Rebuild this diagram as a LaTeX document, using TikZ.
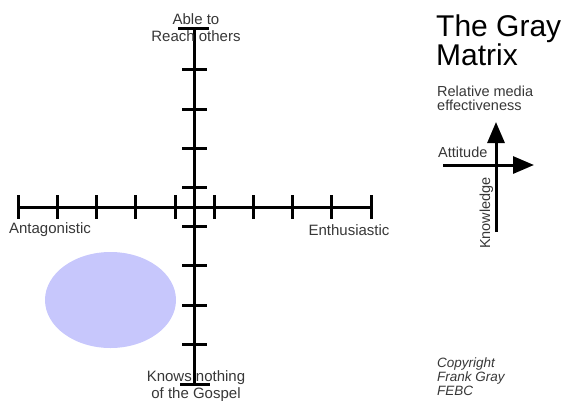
\documentclass[tikz,border=0pt]{standalone}
\usepackage{fontspec}
\setmainfont{Liberation Sans}
\usetikzlibrary{arrows.meta, positioning}
\definecolor{blobblue}{RGB}{199,199,252}
\definecolor{labelgray}{RGB}{55,55,55}
\tikzset{
    axis/.style={line width=3pt, draw=black},
    axistick/.style={line width=3pt, draw=black},
    keyarrow/.style={line width=3pt, draw=black, -{Triangle[length=21pt, width=17pt]}},
    axislabel/.style={inner sep=0pt, align=center, text=labelgray, font=\fontsize{15}{17}\selectfont},
    titletext/.style={inner sep=0pt, align=left, font=\fontsize{30}{26}\selectfont},
    smalltext/.style={inner sep=0pt, align=left, text=labelgray, font=\fontsize{14.5}{14}\selectfont},
    credittext/.style={inner sep=0pt, align=left, text=labelgray, font=\fontsize{13.5}{14}\selectfont\itshape}
}
\begin{document}
\begin{tikzpicture}[x=1pt, y=-1pt]
    \useasboundingbox (0,0) rectangle (565,400);

    % Blob
    \fill[blobblue] (110.5,300) ellipse [x radius=65.5, y radius=48];

    % Axes
    \coordinate (left) at (18,207);
    \coordinate (right) at (371,207);
    \coordinate (top) at (194.5,28);
    \coordinate (bottom) at (194.5,384);
    \draw[axis] (left) -- (right);
    \draw[axis] (top) -- (bottom);

    % Ticks
    \foreach \x in {18,57.25,96.5,135.75,175,214,253.25,292.5,331.75,371}
        \draw[axistick] (\x,195) -- (\x,219);
    \foreach \y in {69.75,109,148.25,187.5,226.5,265.75,305,344.25}
        \draw[axistick] (182,\y) -- (207,\y);
    \draw[axistick] (178,28) -- (209,28);
    \draw[axistick] (180,384) -- (210,384);

    % Axis labels
    \node[axislabel] (reach) at (196,28) {Able to\\Reach others};
    \node[axislabel] (antag) at (50,230) {Antagonistic};
    \node[axislabel] (enth) at (349,230) {Enthusiastic};
    \node[axislabel] (nothing) at (196,386) {Knows nothing\\of the Gospel};

    % Title
    \node[titletext, anchor=base west] (title) at (436,65) {The Gray\\Matrix};
    \node[smalltext, anchor=base west] (relative) at (437,110) {Relative media\\effectiveness};

    % Key
    \coordinate (kstart) at (496,232);
    \coordinate (kend) at (496,122);
    \coordinate (astart) at (443,165);
    \coordinate (aend) at (534,165);
    \draw[keyarrow] (kstart) -- (kend);
    \draw[keyarrow] (astart) -- (aend);
    \node[smalltext, anchor=base west] (attitude) at (438,157) {Attitude};
    \node[smalltext, rotate=90, anchor=base west] (knowledge) at (490,249) {Knowledge};

    % Credit
    \node[credittext, anchor=base west] (credit) at (437,395) {Copyright\\Frank Gray\\FEBC};
\end{tikzpicture}
\end{document}
